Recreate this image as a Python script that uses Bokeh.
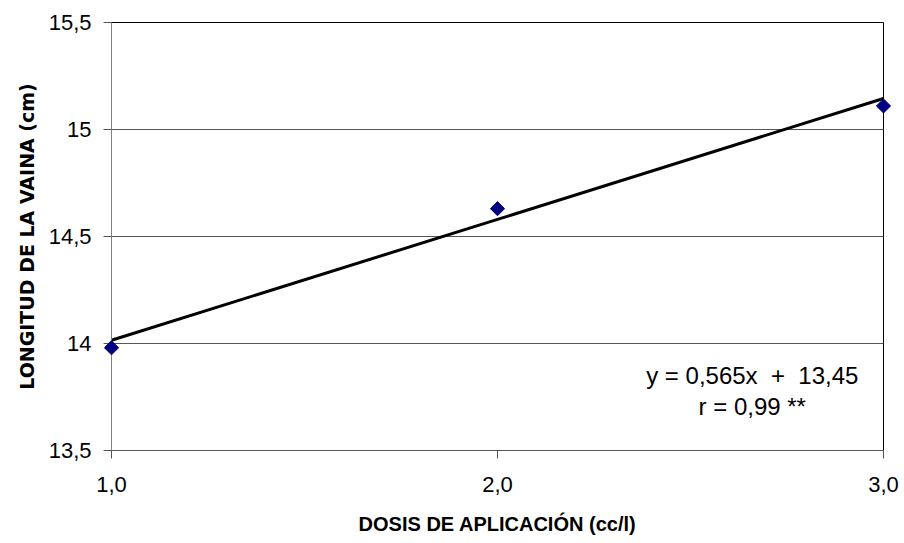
import math
from bokeh.plotting import figure
from bokeh.models import Range1d, FixedTicker, Label, CustomJSTickFormatter
from bokeh.embed import file_html
from bokeh.resources import INLINE

# ---- data ----
dose = [1.0, 2.0, 3.0]
length = [13.98, 14.63, 15.11]
slope = 0.565
intercept = 13.45
x_ticks = [1.0, 2.0, 3.0]
x_tick_labels = ["1,0", "2,0", "3,0"]
y_ticks = [13.5, 14.0, 14.5, 15.0, 15.5]
y_tick_labels = ["13,5", "14", "14,5", "15", "15,5"]
equation_text = "y = 0,565x \u00a0+ \u00a013,45"
r_text = "r = 0,99 **"
x_title = "DOSIS DE APLICACIÓN (cc/l)"
y_title = "LONGITUD DE LA VAINA (cm)"

fit = [slope * x + intercept for x in dose]

p = figure(width=904, height=543, output_backend="svg", toolbar_location=None,
           x_range=Range1d(1.0, 3.0), y_range=Range1d(13.5, 15.5),
           min_border_left=111, min_border_right=21, min_border_top=22,
           min_border_bottom=93)
p.background_fill_color = "white"
p.border_fill_color = "white"
p.outline_line_color = "black"
p.outline_line_width = 1

fmt_code = """
for (let i = 0; i < vals.length; i++) {
  if (Math.abs(vals[i] - tick) < 1e-9) { return labs[i]; }
}
return '';
"""

# x axis
p.xaxis.ticker = FixedTicker(ticks=x_ticks)
p.xaxis.formatter = CustomJSTickFormatter(args=dict(vals=x_ticks, labs=x_tick_labels), code=fmt_code)
p.xaxis.axis_label = x_title
p.xaxis.axis_label_text_font = "Liberation Sans"
p.xaxis.axis_label_text_font_style = "bold"
p.xaxis.axis_label_text_font_size = "20px"
p.xaxis.axis_label_text_color = "black"
p.xaxis.axis_label_standoff = 18
p.xaxis.major_label_text_font = "Liberation Sans"
p.xaxis.major_label_text_font_size = "22px"
p.xaxis.major_label_text_color = "black"
p.xaxis.major_label_standoff = 18
p.xaxis.major_tick_out = 8
p.xaxis.major_tick_in = 0
p.xaxis.minor_tick_out = 0
p.xaxis.minor_tick_in = 0
p.xaxis.axis_line_color = "#555555"
p.xaxis.major_tick_line_color = "#555555"

# y axis
p.yaxis.ticker = FixedTicker(ticks=y_ticks)
p.yaxis.formatter = CustomJSTickFormatter(args=dict(vals=y_ticks, labs=y_tick_labels), code=fmt_code)
p.yaxis.axis_label = y_title
p.yaxis.axis_label_text_font = "DejaVu Sans"
p.yaxis.axis_label_text_font_style = "bold"
p.yaxis.axis_label_text_font_size = "19px"
p.yaxis.axis_label_text_color = "black"
p.yaxis.axis_label_standoff = 8
p.yaxis.major_label_text_font = "Liberation Sans"
p.yaxis.major_label_text_font_size = "22px"
p.yaxis.major_label_text_color = "black"
p.yaxis.major_label_standoff = 12
p.yaxis.major_tick_out = 8
p.yaxis.major_tick_in = 0
p.yaxis.minor_tick_out = 0
p.yaxis.minor_tick_in = 0
p.yaxis.axis_line_color = "#808080"
p.yaxis.major_tick_line_color = "#555555"

# grid
p.xgrid.grid_line_color = None
p.ygrid.grid_line_color = "#555555"
p.ygrid.grid_line_width = 1

# trend line and points
p.line(dose, fit, line_color="black", line_width=3)
p.scatter(dose, length, marker="square", angle=math.pi / 4, size=10,
          fill_color="#000080", line_color="#000080", level="overlay")

# annotation
eq_x = 2.66
p.add_layout(Label(x=eq_x, y=13.850, text=equation_text, text_align="center",
                   text_baseline="middle", text_font="Liberation Sans",
                   text_font_size="24px", text_color="black"))
p.add_layout(Label(x=eq_x, y=13.706, text=r_text, text_align="center",
                   text_baseline="middle", text_font="Liberation Sans",
                   text_font_size="24px", text_color="black"))

open("out.html", "w").write(file_html(p, INLINE))
